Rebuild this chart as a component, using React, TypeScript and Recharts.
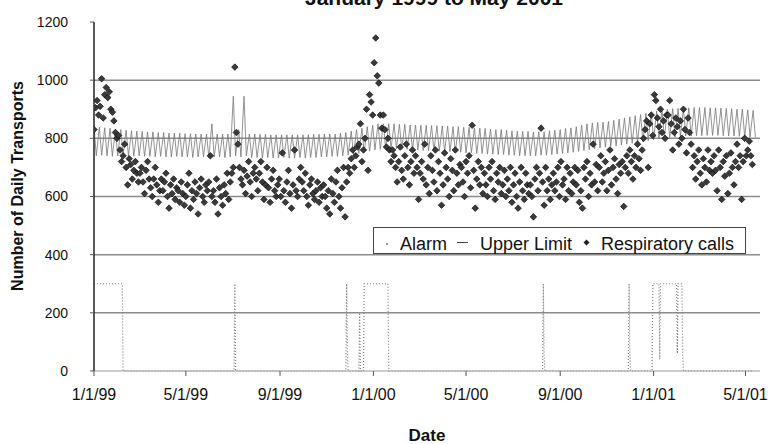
import { CartesianGrid, ComposedChart, Line, Scatter, XAxis, YAxis } from "recharts";

// x axis is days since 1/1/99
const TICK_DAYS = [0, 120, 243, 365, 486, 609, 731, 851];
const TICK_LABELS = ["1/1/99", "5/1/99", "9/1/99", "1/1/00", "5/1/00", "9/1/00", "1/1/01", "5/1/01"];
const Y_TICKS = [0, 200, 400, 600, 800, 1000, 1200];

// Respiratory calls, read every 2nd day (15 values ~ one month per row)
const respCalls = [
  830, 905, 930, 880, 910, 1005, 870, 950, 975, 940, 960, 900, 890, 860, 820,
  800, 810, 760, 720, 740, 780, 700, 640, 730, 710, 660, 690, 720, 680, 650,
  680, 700, 650, 610, 690, 720, 660, 630, 600, 660, 700, 640, 580, 620, 660,
  620, 650, 680, 600, 560, 640, 610, 660, 590, 630, 620, 580, 650, 610, 570,
  600, 640, 680, 560, 620, 590, 650, 610, 540, 630, 660, 600, 580, 640, 620,
  650, 740, 600, 620, 580, 660, 540, 630, 600, 570, 640, 610, 680, 590, 650,
  680, 700, 1045, 820, 780, 700, 660, 640, 690, 610, 670, 720, 650, 600, 680,
  700, 660, 620, 680, 720, 650, 590, 640, 700, 630, 580, 660, 690, 620, 600,
  640, 660, 600, 750, 620, 580, 650, 690, 610, 560, 640, 760, 620, 600, 660,
  700, 650, 620, 680, 600, 570, 640, 660, 610, 590, 620, 650, 580, 630, 600,
  640, 600, 560, 620, 540, 660, 610, 580, 650, 690, 600, 560, 630, 700, 530,
  650, 700, 680, 730, 760, 700, 740, 770, 780, 850, 720, 760, 800, 900, 690,
  950, 925, 880, 1060, 1145, 1015, 990, 880, 835, 880, 830, 770, 800, 760, 720,
  760, 740, 700, 650, 720, 770, 690, 660, 740, 780, 700, 640, 720, 760, 680,
  740, 700, 590, 680, 720, 660, 780, 640, 700, 610, 740, 690, 650, 760, 620,
  720, 680, 570, 640, 750, 700, 660, 600, 730, 690, 620, 760, 680, 640, 710,
  700, 650, 600, 720, 680, 740, 630, 845, 690, 560, 660, 720, 640, 700, 610,
  680, 640, 600, 700, 660, 720, 620, 590, 680, 650, 700, 610, 640, 690, 600,
  660, 620, 700, 580, 640, 680, 600, 560, 650, 700, 620, 590, 680, 640, 610,
  640, 600, 530, 660, 700, 620, 680, 835, 650, 570, 700, 620, 660, 590, 640,
  680, 620, 650, 700, 600, 720, 640, 660, 590, 700, 620, 680, 610, 650, 700,
  640, 690, 580, 620, 560, 700, 660, 720, 600, 680, 640, 780, 650, 710, 620,
  700, 740, 650, 680, 720, 620, 690, 760, 640, 700, 730, 660, 610, 710, 680,
  720, 566, 700, 740, 680, 760, 720, 660, 740, 700, 780, 730, 690, 760, 800,
  830, 860, 700, 850, 880, 810, 950, 930, 870, 840, 900, 820, 860, 800, 880,
  880, 930, 850, 760, 820, 870, 840, 780, 860, 800, 900, 830, 750, 870, 820,
  780, 700, 740, 660, 720, 760, 680, 640, 730, 700, 650, 760, 690, 720, 680,
  740, 690, 620, 760, 700, 590, 720, 670, 740, 610, 680, 750, 700, 640, 720,
  780, 700, 740, 590, 720, 800, 740, 760, 790, 740, 710,
];

// Upper limit: weekly peak and weekly low (10 weeks per row)
const ulPeak = [
  840, 838, 836, 835, 832, 830, 828, 826, 825, 824,
  822, 822, 820, 820, 818, 818, 818, 816, 816, 815,
  815, 815, 850, 815, 815, 815, 945, 830, 945, 815,
  815, 814, 814, 812, 812, 812, 812, 812, 812, 812,
  812, 814, 814, 815, 815, 815, 818, 820, 825, 830,
  835, 840, 845, 850, 850, 850, 850, 848, 848, 846,
  846, 845, 845, 844, 843, 842, 842, 840, 840, 838,
  838, 836, 835, 834, 832, 830, 830, 828, 826, 825,
  824, 824, 822, 822, 822, 826, 828, 830, 834, 836,
  840, 845, 850, 853, 855, 856, 858, 862, 866, 870,
  874, 878, 882, 886, 890, 894, 897, 900, 902, 903,
  904, 905, 906, 906, 906, 905, 905, 904, 903, 902,
  900, 900, 898, 896,
];
const ulBase = [
  740, 742, 740, 738, 740, 742, 740, 738, 740, 738,
  738, 736, 738, 736, 736, 738, 736, 736, 734, 736,
  736, 734, 736, 736, 734, 736, 740, 736, 740, 734,
  734, 732, 734, 732, 732, 734, 732, 732, 734, 732,
  734, 734, 736, 736, 738, 738, 740, 742, 745, 748,
  752, 756, 760, 762, 764, 764, 764, 762, 762, 760,
  760, 758, 758, 756, 756, 754, 754, 752, 752, 750,
  750, 748, 748, 746, 746, 744, 744, 742, 742, 740,
  740, 740, 740, 742, 742, 744, 746, 748, 750, 752,
  755, 758, 761, 764, 767, 770, 772, 774, 777, 780,
  783, 786, 789, 792, 795, 798, 800, 802, 804, 806,
  808, 808, 809, 809, 810, 810, 810, 809, 808, 808,
  807, 806, 805, 804,
];

// Alarm: mostly 0, with flagged periods
const alarmDays = [0, 37, 38, 183, 184, 185, 329, 330, 331, 332, 346, 347, 348, 352, 353, 384, 385,
  586, 587, 588, 589, 698, 699, 700, 701, 729, 730, 738, 739, 740, 761, 762, 763, 768, 769, 770, 861];
const alarmVals = [300, 300, 0, 0, 300, 0, 0, 300, 70, 0, 0, 200, 0, 0, 300, 300, 0,
  0, 300, 55, 0, 0, 300, 60, 0, 0, 300, 300, 40, 300, 300, 60, 300, 300, 60, 0, 0];

const callRows = respCalls.map((v, i) => ({ day: i * 2, calls: v }));
const ulRows = ulPeak.flatMap((p, w) => [
  { day: w * 7, ul: p },
  { day: w * 7 + 3, ul: ulBase[w] },
]);
const alarmRows = alarmDays.map((d, i) => ({ day: d, alarm: alarmVals[i] }));

const FONT = "'Liberation Sans', Arial, sans-serif";

function Diamond(props: any) {
  const { cx, cy } = props;
  if (cx == null || cy == null) return null;
  const r = 3.3;
  return (
    <polygon
      points={`${cx},${cy - r} ${cx + r},${cy} ${cx},${cy + r} ${cx - r},${cy}`}
      fill="#3a3a3a"
      stroke="#000"
      strokeWidth={0.6}
    />
  );
}

export default function App() {
  return (
    <div style={{ position: "absolute", left: 0, top: 0, width: 773, height: 444, background: "#fff", fontFamily: FONT, overflow: "hidden" }}>
      <div style={{ position: "absolute", left: 434, top: -13, transform: "translateX(-50%)", fontSize: 21, lineHeight: "21px", fontWeight: "bold", whiteSpace: "nowrap", color: "#111" }}>
        January 1999 to May 2001
      </div>
      <ComposedChart width={773} height={444} margin={{ top: 22, right: 13, bottom: 33, left: 30 }}>
        <CartesianGrid vertical={false} horizontalValues={[200, 400, 600, 800, 1000]} stroke="#8c8c8c" strokeWidth={1.5} />
        <XAxis
          dataKey="day"
          type="number"
          domain={[0, 870]}
          ticks={TICK_DAYS}
          tickFormatter={(d: number) => TICK_LABELS[TICK_DAYS.indexOf(d)]}
          height={40}
          tickSize={5}
          tickMargin={13}
          axisLine={{ stroke: "#9a9a9a" }}
          tickLine={{ stroke: "#555" }}
          tick={{ fontSize: 16, fill: "#111", fontFamily: FONT }}
          allowDataOverflow
        />
        <YAxis
          type="number"
          domain={[0, 1200]}
          ticks={Y_TICKS}
          width={64}
          tickSize={4}
          tickMargin={22}
          axisLine={{ stroke: "#222", strokeWidth: 1.5 }}
          tickLine={{ stroke: "#555" }}
          tick={{ fontSize: 14, fill: "#111", fontFamily: FONT }}
        />
        <Line data={ulRows} dataKey="ul" type="linear" stroke="#777" strokeWidth={0.8} dot={false} isAnimationActive={false} />
        <Line data={alarmRows} dataKey="alarm" type="linear" stroke="#808080" strokeWidth={1.2} strokeDasharray="1 2" dot={false} isAnimationActive={false} />
        <Scatter data={callRows} dataKey="calls" shape={Diamond} isAnimationActive={false} />
      </ComposedChart>
      <div style={{ position: "absolute", left: 18, top: 186, transform: "translate(-50%, -50%) rotate(-90deg)", fontSize: 16, fontWeight: "bold", whiteSpace: "nowrap", color: "#111" }}>
        Number of Daily Transports
      </div>
      <div style={{ position: "absolute", left: 427, top: 428, transform: "translateX(-50%)", fontSize: 17, lineHeight: "15px", fontWeight: "bold", color: "#111" }}>
        Date
      </div>
      <div style={{ position: "absolute", left: 373, top: 227, width: 371, height: 25, border: "1px solid #444", background: "#fff", color: "#111" }}>
        <div style={{ position: "absolute", left: 12, top: 15, width: 2, height: 2, background: "#999" }} />
        <span style={{ position: "absolute", left: 26, top: 7, fontSize: 18, lineHeight: "18px" }}>Alarm</span>
        <div style={{ position: "absolute", left: 83, top: 14, width: 11, height: 1, background: "#444" }} />
        <span style={{ position: "absolute", left: 106, top: 7, fontSize: 18, lineHeight: "18px" }}>Upper Limit</span>
        <svg style={{ position: "absolute", left: 209, top: 11 }} width={7} height={7}>
          <polygon points="3.5,0.5 6.5,3.5 3.5,6.5 0.5,3.5" fill="#222" />
        </svg>
        <span style={{ position: "absolute", left: 227, top: 7, fontSize: 18, lineHeight: "18px" }}>Respiratory calls</span>
      </div>
    </div>
  );
}
